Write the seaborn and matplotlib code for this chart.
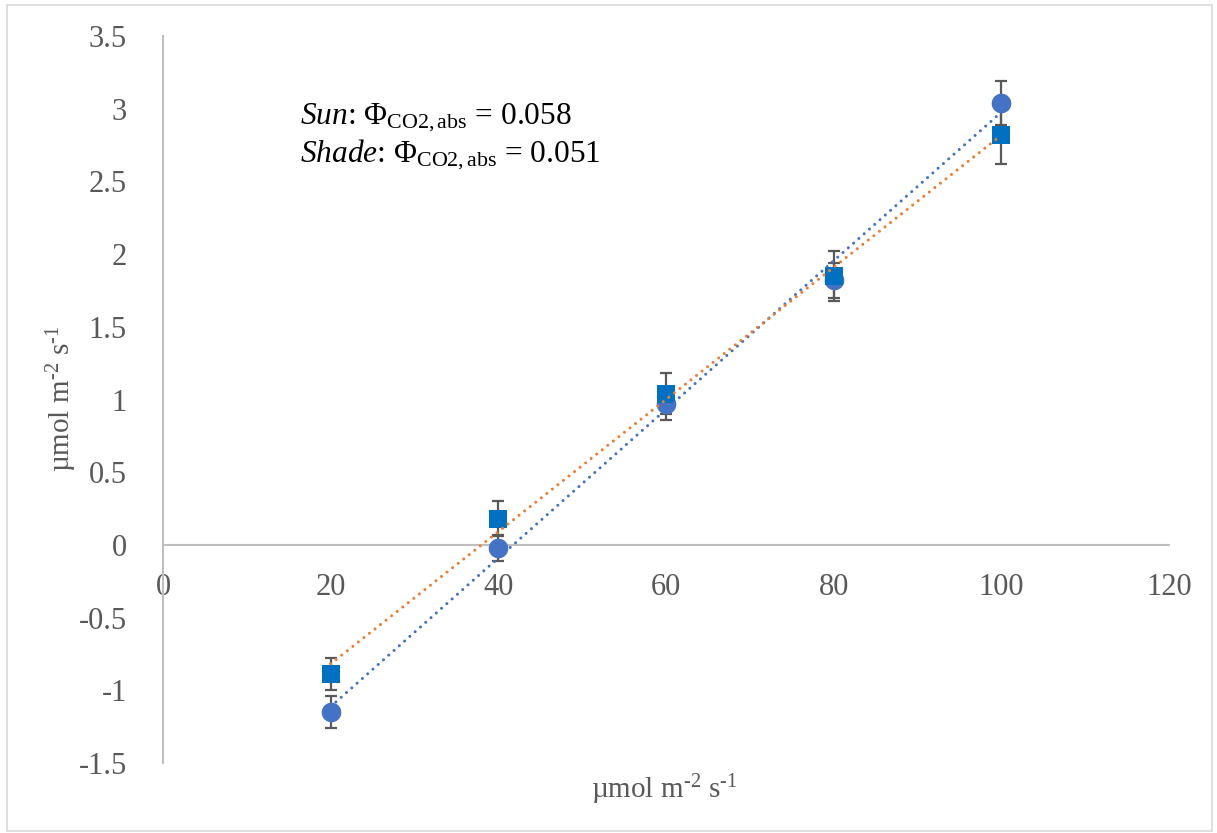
import numpy as np
import pandas as pd
import matplotlib
matplotlib.use('Agg')
import matplotlib.pyplot as plt
import seaborn as sns
from matplotlib.patches import Rectangle

# ---- data ----
ppfd = [20, 40, 60, 80, 100]
sun_mean = [-1.15, -0.02, 0.97, 1.82, 3.04]
sun_err = [0.11, 0.09, 0.11, 0.12, 0.15]
shade_mean = [-0.89, 0.18, 1.04, 1.85, 2.82]
shade_err = [0.11, 0.12, 0.14, 0.17, 0.20]
sun_text = r"$\mathit{Sun}$: $\Phi_{\mathrm{CO2,abs}}$ = 0.058"
shade_text = r"$\mathit{Shade}$: $\Phi_{\mathrm{CO2,abs}}$ = 0.051"
unit_label = r"µmol m$^{\text{-2}}$ s$^{\text{-1}}$"

df_sun = pd.DataFrame({'x': ppfd, 'y': sun_mean, 'err': sun_err})
df_shade = pd.DataFrame({'x': ppfd, 'y': shade_mean, 'err': shade_err})

sns.set_style('white')
plt.rcParams['font.family'] = ['Liberation Serif', 'DejaVu Serif']
plt.rcParams['mathtext.fontset'] = 'custom'
plt.rcParams['mathtext.rm'] = 'Liberation Serif'
plt.rcParams['mathtext.it'] = 'Liberation Serif:italic'
plt.rcParams['mathtext.bf'] = 'Liberation Serif:bold'
plt.rcParams['axes.unicode_minus'] = False

c_sun = '#4472C4'
c_shade = '#0070C0'
c_sun_fit = '#4472C4'
c_shade_fit = '#ED7D31'
c_err = '#595959'
c_axis = '#BFBFBF'
c_text = '#595959'

fig = plt.figure(figsize=(12.17, 8.33), dpi=100)
ax = fig.add_axes([0.1339, 0.0840, 0.8267, 0.8728])

# error bars
ax.errorbar(df_sun['x'], df_sun['y'], yerr=df_sun['err'], fmt='none',
            ecolor=c_err, elinewidth=1.6, capsize=4.5, capthick=1.6, zorder=2)
ax.errorbar(df_shade['x'], df_shade['y'], yerr=df_shade['err'], fmt='none',
            ecolor=c_err, elinewidth=1.6, capsize=4.5, capthick=1.6, zorder=2)

# markers
sns.scatterplot(data=df_sun, x='x', y='y', marker='o', s=200, color=c_sun,
                edgecolor=c_sun, linewidth=0, ax=ax, zorder=3)
sns.scatterplot(data=df_shade, x='x', y='y', marker='s', s=185, color=c_shade,
                edgecolor=c_shade, linewidth=0, ax=ax, zorder=4)

# linear trendlines
dot = (0, (0.01, 2.3))
sns.regplot(data=df_sun, x='x', y='y', scatter=False, ci=None, truncate=True, ax=ax,
            line_kws=dict(color=c_sun_fit, lw=2.2, linestyle=dot,
                          dash_capstyle='round', zorder=5))
sns.regplot(data=df_shade, x='x', y='y', scatter=False, ci=None, truncate=True, ax=ax,
            line_kws=dict(color=c_shade_fit, lw=2.2, linestyle=dot,
                          dash_capstyle='round', zorder=5))

ax.set_xlim(0, 120)
ax.set_ylim(-1.5, 3.5)
ax.set_xticks(np.arange(0, 121, 20))
ax.set_yticks(np.arange(-1.5, 3.51, 0.5))
ax.set_yticklabels(['-1.5', '-1', '-0.5', '0', '0.5', '1', '1.5', '2', '2.5', '3', '3.5'])

for s in ['top', 'right']:
    ax.spines[s].set_visible(False)
ax.spines['bottom'].set_position(('data', 0))
for s in ['left', 'bottom']:
    ax.spines[s].set_color(c_axis)
    ax.spines[s].set_linewidth(1.5)
ax.tick_params(axis='both', length=0, labelsize=22, labelcolor=c_text)
ax.tick_params(axis='y', pad=26)
ax.tick_params(axis='x', pad=20)

ax.set_xlabel('')
ax.set_ylabel('')
fig.text(0.546, 0.052, unit_label, fontsize=21, color=c_text, ha='center', va='center')
fig.text(0.051, 0.521, unit_label, fontsize=21, color=c_text, ha='center', va='center',
         rotation=90)

ax.text(0.136, 0.887, sun_text, transform=ax.transAxes, fontsize=22.6, color='black',
        ha='left', va='center')
ax.text(0.136, 0.836, shade_text, transform=ax.transAxes, fontsize=22.6, color='black',
        ha='left', va='center')

# outer frame
fig.patches.append(Rectangle((0.006, 0.003), 0.99, 0.991, transform=fig.transFigure,
                             fill=False, edgecolor='#D9D9D9', lw=1.2))

fig.savefig('out.png', dpi=100)
